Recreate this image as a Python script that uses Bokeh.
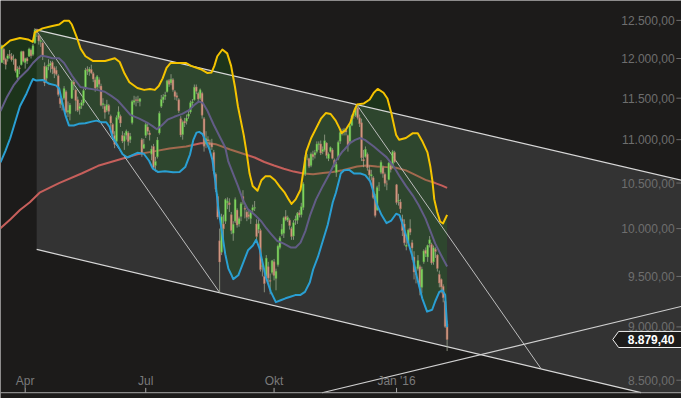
import math
from bokeh.plotting import figure
from bokeh.models import Range1d
from bokeh.core.properties import value
from bokeh.embed import file_html
from bokeh.resources import INLINE

# ---------------- data (trading-day index 0 = 16 Mar 2015 ... 229 = 9 Feb 2016) ----------------
opens = [11950,12120,11990,12000,12050,12030,11990,11990,11760,11880,11920,12090,11950,12000,12030,12110,12050,12200,12380,12300,
         12220,12200,11900,11750,11900,11910,11950,11880,11850,11780,11500,11420,11500,11580,11330,11310,11500,11700,11600,11480,
         11370,11410,11440,11620,11860,11830,11860,11810,11730,11640,11730,11650,11420,11400,11350,11410,11280,11180,11050,10980,
         11260,11280,11050,10980,11050,11080,11000,11200,11450,11480,11480,11460,11000,10900,11050,11150,11080,10830,10920,10700,
         10800,11080,11400,11480,11520,11580,11720,11690,11730,11580,11530,11480,11250,11060,11220,11220,11280,11330,11440,11480,
         11640,11560,11500,11560,11250,10950,11000,10960,10960,10850,10600,10350,9870,9750,10050,10080,10280,10280,10150,9950,
         10080,10200,10050,10130,10350,10220,10180,10150,10110,10200,10220,10050,9990,9980,9600,9500,9500,9600,9460,9540,
         9650,9480,9620,9800,9940,9950,10130,10090,10090,10000,9920,10090,10090,10170,10150,10230,10600,10800,10780,10700,
         10830,10820,10860,10940,10950,10860,10880,10960,10780,10860,10880,10760,10620,10780,10980,11090,11090,11110,11050,10980,
         11170,11290,11290,11380,11260,11200,10770,10800,10830,10650,10580,10560,10350,10200,10470,10620,10680,10600,10490,10540,
         10700,10680,10850,10480,10300,10290,10100,10050,9810,9850,10000,9850,9700,9530,9580,9600,9390,9650,9770,9700,
         9840,9830,9650,9780,9720,9520,9470,9400,9250,9030]
highs = [12180,12140,12010,12060,12110,12070,12050,12000,11900,11910,12100,12100,12010,12020,12140,12130,12190,12390,12390,12310,
         12280,12220,11950,11910,11990,11970,11970,11900,11900,11800,11520,11500,11650,11600,11460,11440,11730,11730,11620,11520,
         11440,11480,11620,11880,11900,11890,11920,11830,11760,11790,11760,11680,11500,11430,11480,11430,11300,11200,11100,11290,
         11400,11300,11100,11080,11120,11100,11080,11480,11530,11520,11530,11500,11020,11010,11200,11190,11110,10930,10950,10800,
         11030,11340,11540,11550,11580,11730,11740,11800,11750,11600,11570,11500,11280,11230,11260,11300,11350,11470,11490,11670,
         11670,11580,11620,11580,11270,11100,11040,11000,11010,10880,10620,10380,10000,10160,10150,10330,10340,10330,10180,10080,
         10340,10220,10130,10290,10420,10250,10200,10200,10200,10260,10300,10100,10110,10000,9680,9560,9720,9650,9530,9670,
         9680,9580,9830,9920,10050,10130,10200,10140,10110,10020,10090,10140,10180,10200,10280,10510,10820,10830,10790,10850,
         10870,10880,10980,10980,10990,10920,11060,10970,10850,10920,10900,10780,10740,10990,11100,11130,11140,11130,11060,11180,
         11300,11320,11400,11430,11300,11250,10880,10920,10850,10700,10650,10580,10380,10470,10510,10760,10700,10620,10530,10740,
         10720,10880,10870,10490,10380,10320,10150,10100,9910,10000,10100,9880,9760,9600,9720,9620,9600,9780,9800,9830,
         9920,9850,9820,9800,9730,9560,9480,9420,9260,9060]
lows = [11940,11930,11860,11960,12000,11960,11920,11820,11710,11800,11910,11950,11870,11930,12020,12000,12030,12190,12280,12180,
        12150,11980,11650,11710,11850,11820,11800,11750,11780,11520,11380,11350,11480,11310,11270,11230,11490,11600,11340,11330,
        11300,11370,11410,11600,11790,11780,11800,11700,11580,11600,11620,11400,11370,11250,11330,11300,11130,11040,10900,10960,
        11240,11150,10960,10880,11000,10930,10960,11180,11420,11400,11440,11400,10800,10890,11020,11060,10990,10760,10650,10630,
        10780,11060,11380,11440,11480,11570,11640,11660,11580,11480,11470,11320,11030,11000,11150,11180,11250,11310,11380,11470,
        11550,11440,11480,11250,10860,10900,10920,10850,10880,10600,10400,10100,9338,9720,9880,10050,10210,10180,9940,9870,
        10060,10010,10020,10080,10260,10110,10080,10100,10050,10160,10190,9880,9950,9550,9500,9340,9480,9440,9320,9520,
        9460,9360,9600,9780,9920,9900,10080,10070,9990,9880,9880,10040,10050,10120,10120,10200,10580,10760,10670,10680,
        10760,10780,10840,10880,10820,10830,10860,10780,10750,10850,10770,10680,10570,10760,10950,11050,11050,11050,10860,10960,
        11160,11250,11270,11240,11150,10750,10680,10790,10640,10520,10530,10320,10120,10190,10410,10600,10560,10460,10420,10530,
        10620,10670,10730,10260,10250,10170,9920,9820,9770,9820,9930,9670,9470,9430,9560,9310,9330,9630,9700,9650,
        9800,9620,9620,9690,9550,9390,9330,9240,8990,8770]
closes = [12168,11980,11923,12036,12040,11985,11995,11843,11865,11868,12086,11966,12001,11967,12123,12035,12166,12375,12339,12227,
          12232,12039,11689,11892,11921,11939,11867,11811,11800,11547,11432,11454,11621,11327,11350,11416,11709,11673,11472,11351,
          11400,11447,11595,11853,11848,11864,11815,11740,11625,11771,11673,11413,11436,11327,11419,11340,11197,11064,10945,11265,
          11333,11197,10985,11044,11100,10978,11041,11460,11471,11472,11473,11493,10832,10945,11180,11099,11058,10891,10676,10747,
          10997,11316,11484,11516,11540,11716,11673,11735,11604,11520,11512,11347,11056,11211,11199,11257,11308,11444,11456,11636,
          11585,11490,11604,11293,10924,11015,10985,10940,10915,10636,10432,10124,9648,10129,9997,10316,10298,10259,9980,10048,
          10318,10038,10108,10271,10303,10210,10123,10131,10188,10227,10229,9916,10051,9571,9612,9428,9688,9483,9450,9660,
          9509,9553,9814,9902,9994,10118,10096,10120,10033,9915,10064,10104,10165,10147,10238,10491,10795,10801,10692,10831,
          10800,10850,10950,10951,10845,10887,10988,10815,10833,10907,10782,10708,10713,10971,11085,11085,11119,11092,10934,11169,
          11285,11293,11382,11261,11190,10789,10752,10887,10673,10592,10598,10340,10140,10450,10470,10738,10608,10498,10489,10727,
          10653,10860,10743,10283,10310,10214,9979,9849,9825,9985,9960,9794,9545,9521,9664,9391,9574,9764,9736,9822,
          9880,9639,9798,9757,9582,9434,9393,9286,9004,8879.40]

# Bollinger bands (20) and 200-day average
upper_x = [-0.7,4.3,9.3,13.4,15.9,16.9,20.9,25.4,29.5,32.0,34.5,36.0,38.5,40.5,43.0,47.0,53.1,58.1,60.6,63.1,65.6,69.7,73.2,76.2,
           78.7,80.7,82.7,84.7,86.7,90.8,94.8,97.3,102.3,105.8,107.8,109.3,110.8,113.4,115.9,117.9,119.9,121.4,122.9,124.4,126.0,
           127.4,129.0,131.5,133.5,135.5,138.0,140.5,143.0,145.5,147.5,149.0,151.1,153.6,155.1,156.6,159.1,161.6,164.1,166.6,
           169.1,171.7,173.7,174.7,176.7,179.2,181.2,182.7,186.2,189.2,191.3,193.3,196.3,198.3,200.3,202.8,204.3,207.8,211.4,
           213.9,216.4,218.9,220.4,221.4,222.4,223.9,225.4,226.9,229.0]
upper_y = [12128,12233,12267,12248,12216,12340,12394,12423,12445,12496,12496,12445,12279,12128,12029,11967,11967,12004,11955,11807,
           11699,11627,11603,11615,11603,11651,11747,11881,11942,11942,11942,11905,11863,11814,11820,11905,12029,12116,12066,11905,
           11639,11401,11227,11054,10829,10608,10468,10414,10532,10576,10576,10532,10457,10392,10318,10268,10318,10425,10641,10862,
           11020,11134,11250,11318,11307,11227,11134,11077,11112,11204,11343,11424,11436,11484,11567,11615,11567,11496,11318,11054,
           10998,11020,11077,11077,10975,10851,10685,10532,10318,10180,10076,10055,10148]
mid_x = [-0.7,2.7,6.0,9.3,13.5,16.0,18.5,20.3,22.8,26.1,29.4,32.0,36.1,40.4,44.5,49.5,52.9,56.1,59.6,63.1,66.1,70.7,74.7,77.7,
         79.7,82.2,85.2,88.7,92.8,96.3,98.8,101.3,103.3,105.8,108.9,112.4,114.9,116.4,118.9,121.4,123.9,126.4,130.0,133.5,136.0,
         138.5,141.5,145.0,148.5,151.1,153.6,156.1,158.6,161.6,165.1,168.6,171.7,175.2,176.2,179.2,181.7,184.2,186.7,191.3,194.3,
         197.8,201.3,204.3,207.8,211.4,214.4,217.9,220.4,222.9,226.4,229.0]
mid_y = [11342,11519,11659,11759,11860,11942,12004,12037,12025,12004,12004,11942,11779,11639,11619,11600,11580,11531,11472,11378,
         11296,11250,11204,11158,11123,11169,11238,11273,11308,11354,11413,11460,11443,11342,11180,11020,10908,10751,10608,10468,
         10318,10212,10149,10076,10004,9942,9871,9840,9800,9800,9851,9973,10149,10318,10468,10608,10751,10862,10885,10963,
         10998,11020,10998,10919,10862,10796,10696,10586,10468,10360,10254,10107,9973,9840,9700,9601]
lower_x = [-0.7,1.8,4.3,6.8,9.3,12.7,15.2,16.0,17.7,21.1,24.4,27.8,29.5,31.1,32.8,34.5,37.0,39.5,42.9,46.2,48.7,51.2,53.7,55.4,
           57.1,59.6,62.1,64.6,67.1,69.7,73.0,75.7,77.7,80.2,83.9,88.1,91.4,94.3,96.8,98.5,100.1,101.5,103.2,105.7,106.8,108.3,
           109.9,111.4,113.2,114.9,116.5,117.9,119.0,121.6,124.1,126.6,129.1,130.8,132.5,134.1,135.8,138.3,140.9,143.4,145.9,
           148.4,150.9,153.4,155.9,158.4,160.1,162.6,165.1,167.6,170.2,171.8,173.5,174.3,176.0,178.5,181.1,184.4,186.9,189.4,
           191.1,192.8,195.3,197.8,200.3,202.8,204.5,206.2,208.7,211.2,213.7,216.2,218.7,221.3,222.9,225.0,226.6,228.0,229.0]
lower_y = [10737,10866,11017,11207,11401,11559,11699,11739,11719,11727,11679,11659,11619,11440,11284,11169,11169,11188,11195,11215,
           11227,11207,11207,11150,11020,10930,10829,10792,10818,10846,10835,10754,10663,10626,10635,10622,10626,10682,10829,10998,
           11083,11092,11066,10941,10885,10762,10500,10211,9963,9730,9580,9523,9473,9512,9640,9770,9820,9881,9790,9640,
           9492,9347,9242,9261,9280,9296,9312,9312,9344,9441,9571,9703,9871,10042,10286,10392,10536,10608,10645,10652,
           10608,10608,10590,10522,10403,10265,10146,10059,10087,10160,10146,10042,9871,9703,9473,9280,9148,9167,9251,9344,
           9360,9312,8998]
ma200_x = [-0.7,4.3,9.3,14.4,19.4,29.4,41.0,49.5,59.6,69.7,78.2,86.2,94.8,102.3,105.8,109.9,117.4,124.9,130.0,135.0,140.0,145.0,
           150.1,155.1,160.1,165.1,170.2,175.2,182.7,187.7,192.8,197.8,202.8,207.8,212.9,217.9,222.9,226.4,229.0]
ma200_y = [10004,10097,10201,10286,10392,10500,10608,10696,10763,10829,10863,10896,10919,10958,10960,10947,10885,10829,10792,10740,
           10700,10663,10630,10608,10600,10615,10626,10645,10688,10699,10688,10681,10674,10644,10590,10536,10500,10471,10446]

# hand-drawn trend lines: (trading-day index, price)
channel_top_x, channel_top_y = [17.9, 349.55], [12374, 10531]
channel_bot_x, channel_bot_y = [17.9, 328.7], [9779, 8387]
fan2_x, fan2_y = [183.1, 277.3], [11402, 8606]
rise_x, rise_y = [164.7, 349.55], [8387, 9200]

tick_idx = [12, 74, 140, 203]
tick_labels = ["Apr", "Jul", "Okt", "Jan '16"]
price_ticks = [8500, 9000, 9500, 10000, 10500, 11000, 11500, 12000, 12500]

# ---------------- styling ----------------
BG = "#1c1b1a"
FONT = value("Liberation Sans")
X0, X1 = -0.70, 349.55
Y0, Y1 = 8335.1, 12769.5
AXIS_Y = 8387.0          # price level where the date axis line sits
PX = 970.5               # reference pixels per natural-log unit of price


def de(v):
    s = f"{v:,.2f}"
    return s.replace(",", "X").replace(".", ",").replace("X", ".")


p = figure(width=681, height=398, output_backend="svg", toolbar_location=None, title=None,
           x_range=Range1d(X0, X1), y_range=Range1d(Y0, Y1), y_axis_type="log",
           x_axis_location=None, y_axis_location=None, min_border=0,
           background_fill_color=BG, border_fill_color=BG, outline_line_color=None)
p.grid.grid_line_color = None

# grey trend channel
ch_x = [channel_top_x[0], channel_top_x[1], X1, channel_bot_x[1], channel_bot_x[0]]
ch_y = [channel_top_y[0], channel_top_y[1], AXIS_Y, channel_bot_y[1], channel_bot_y[0]]
p.patch(ch_x, ch_y, fill_color="#333333", line_color=None)

# 200 day line (below the band fill)
p.line(ma200_x, ma200_y, line_color="#c65f5b", line_width=2, line_join="round")

# band fill
p.patch(upper_x + lower_x[::-1], upper_y + lower_y[::-1], fill_color="#1f8c1f", fill_alpha=0.22, line_color=None)

# trend lines
p.line(channel_top_x, channel_top_y, line_color="#d8d8d8", line_width=1.2)
p.line(channel_bot_x, channel_bot_y, line_color="#d8d8d8", line_width=1.2)
p.line([17, 112], [highs[17], lows[112]], line_color="#bdbdbd", line_width=1)
p.line(fan2_x, fan2_y, line_color="#bdbdbd", line_width=1)
p.line(rise_x, rise_y, line_color="#d0d0d0", line_width=1.2)

# candles
idx = list(range(len(closes)))
tops = [max(o, c) for o, c in zip(opens, closes)]
bots = [min(o, c) for o, c in zip(opens, closes)]
fills = ["#86e263" if c >= o else "#d89e88" for o, c in zip(opens, closes)]
edges = ["#5a9c44" if c >= o else "#a86a5a" for o, c in zip(opens, closes)]
p.segment(x0=idx, y0=lows, x1=idx, y1=highs, line_color="#9aa28e", line_width=0.8)
p.vbar(x=idx, width=0.9, top=tops, bottom=bots, fill_color=fills, line_color=edges, line_width=0.5)

# band lines
p.line(mid_x, mid_y, line_color="#625c86", line_width=2, line_join="round")
p.line(upper_x, upper_y, line_color="#f4c300", line_width=2, line_join="round")
p.line(lower_x, lower_y, line_color="#2a9fd3", line_width=2, line_join="round")

# date axis (drawn inside the frame)
p.line([X0, X1], [AXIS_Y, AXIS_Y], line_color="#a8a8a8", line_width=1)
p.segment(x0=tick_idx, y0=[AXIS_Y] * 4, x1=tick_idx, y1=[AXIS_Y * math.exp(5 / PX)] * 4,
          line_color="#a8a8a8", line_width=1)
p.text(x=tick_idx, y=[AXIS_Y * math.exp(12.5 / PX)] * 4, text=tick_labels, text_font=FONT,
       text_font_size="12px", text_color="#7a7a7a", text_align="center", text_baseline="middle")

# price axis labels (inside the frame, right side)
p.text(x=[346.0] * len(price_ticks), y=price_ticks, text=[de(v) for v in price_ticks], text_font=FONT,
       text_font_size="12px", text_color="#6e6e6e", text_align="right", text_baseline="middle")
p.segment(x0=[346.9] * len(price_ticks), y0=price_ticks, x1=[X1] * len(price_ticks), y1=price_ticks,
          line_color="#6e6e6e", line_width=1)

# last price marker
last = closes[-1]
f = math.exp(8.35 / PX)
p.patch([314.2, 317.2, 351.0, 351.0, 317.2], [last, last * f, last * f, last / f, last / f],
        fill_color=BG, line_color="#f0f0f0", line_width=1)
p.text(x=[333.9], y=[last], text=[de(last)], text_font=FONT, text_font_size="12px", text_font_style="bold",
       text_color="#ffffff", text_align="center", text_baseline="middle")

open("out.html", "w").write(file_html(p, INLINE))
